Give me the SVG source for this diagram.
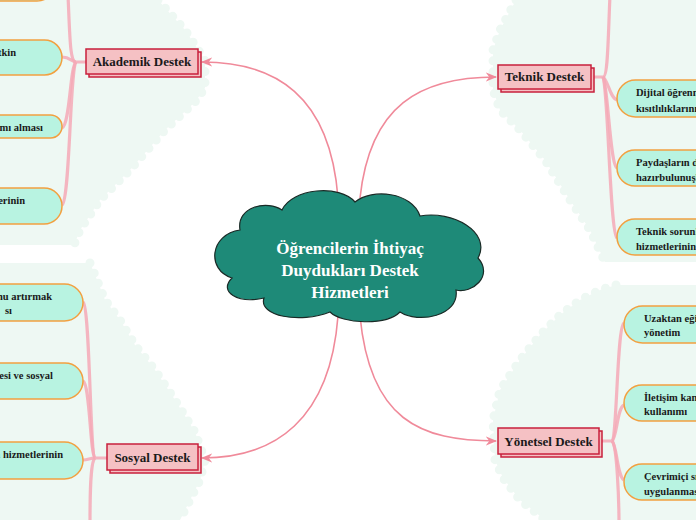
<svg xmlns="http://www.w3.org/2000/svg" width="696" height="520" viewBox="0 0 696 520">
<defs>
<style>
.blob{fill:none;stroke:#eef8f3;stroke-width:9;stroke-linejoin:round;stroke-dasharray:0 11;stroke-linecap:round}
.blobf{fill:#eef8f3}
.main{fill:none;stroke:#f08a9a;stroke-width:1.6}
.sub{fill:none;stroke:#f4a9b6;stroke-width:3.2;stroke-opacity:0.85}
.br{fill:#f5c1c4;stroke:#c8203c;stroke-width:1.5}
.brt{font-family:"Liberation Serif","DejaVu Serif",serif;font-weight:bold;font-size:13px;fill:#1a1a1a;text-anchor:middle}
.leaf{fill:#b8f3e1;stroke:#f2a040;stroke-width:1.5}
.lt{font-family:"Liberation Serif","DejaVu Serif",serif;font-weight:bold;font-size:10.5px;fill:#1a1a1a}
.ltr{font-family:"Liberation Serif","DejaVu Serif",serif;font-weight:bold;font-size:10.5px;fill:#1a1a1a;text-anchor:end}
.ct{font-family:"Liberation Serif","DejaVu Serif",serif;font-weight:bold;font-size:17px;fill:#ffffff;text-anchor:middle}
</style>
<marker id="arr" viewBox="0 0 10 10" refX="9" refY="5" markerWidth="7" markerHeight="7" orient="auto-start-reverse">
<path d="M0,1 L10,5 L0,9 L3,5 Z" fill="#f08a9a"/>
</marker>
</defs>
<rect width="696" height="520" fill="#ffffff"/>

<g id="backgrounds">
<path class="blobf" d="M0,0 L158,0 L185,30 L205,60 L205,88 L195,102 L165,130 L130,170 L100,200 L80,230 L74,245 L0,245 Z"/>
<path class="blob" d="M158,0 L185,30 L205,60 L205,88 L195,102 L165,130 L130,170 L100,200 L80,230 L74,245"/>
<path class="blobf" d="M516,0 L696,0 L696,262 L605,262 L590,230 L570,200 L545,160 L520,130 L500,110 L493,90 L493,50 L500,30 Z"/>
<path class="blob" d="M516,0 L500,30 L493,50 L493,90 L500,110 L520,130 L545,160 L570,200 L590,230 L605,262"/>
<path class="blobf" d="M0,263 L90,263 L95,275 L105,300 L120,320 L135,345 L155,370 L175,400 L195,432 L205,460 L200,480 L190,500 L180,520 L0,520 Z"/>
<path class="blob" d="M90,263 L95,275 L105,300 L120,320 L135,345 L155,370 L175,400 L195,432 L205,460 L200,480 L190,500 L180,520"/>
<path class="blobf" d="M616,285 L696,285 L696,520 L545,520 L520,500 L503,478 L495,460 L493,420 L500,390 L520,360 L540,335 L560,315 L580,300 L600,290 Z"/>
<path class="blob" d="M616,285 L600,290 L580,300 L560,315 L540,335 L520,360 L500,390 L493,420 L495,460 L503,478 L520,500 L545,520"/>
</g>

<g id="connectors">
<path class="main" d="M338,198 C 330,95 275,62 202,62" marker-end="url(#arr)"/>
<path class="main" d="M360,198 C 370,105 420,77 496,77" marker-end="url(#arr)"/>
<path class="main" d="M338,316 C 330,420 275,458 202,458" marker-end="url(#arr)"/>
<path class="main" d="M360,316 C 370,420 420,441 496,441" marker-end="url(#arr)"/>

<path class="sub" d="M86,62 L76,62 C 70,62 70,40 68,-5"/>
<path class="sub" d="M76,62 C 72,62 70,57 62,57"/>
<path class="sub" d="M76,62 C 70,66 70,125 62,128"/>
<path class="sub" d="M76,62 C 70,68 70,200 62,205"/>

<path class="sub" d="M591,77 L603,77 C 608,77 608,40 610,-5"/>
<path class="sub" d="M603,77 C 608,80 610,98 617,100"/>
<path class="sub" d="M603,77 C 608,85 610,165 617,168"/>
<path class="sub" d="M603,77 C 608,88 610,234 617,238"/>

<path class="sub" d="M107,458 L95,458 C 90,456 90,306 83,302"/>
<path class="sub" d="M95,458 C 90,454 90,384 83,381"/>
<path class="sub" d="M95,458 C 90,458 88,460 83,460"/>
<path class="sub" d="M95,458 C 90,462 90,500 90,525"/>

<path class="sub" d="M599,441 L612,441 C 617,438 617,326 624,323"/>
<path class="sub" d="M612,441 C 617,438 617,408 624,405"/>
<path class="sub" d="M612,441 C 617,445 617,476 624,480"/>
<path class="sub" d="M612,441 C 617,445 619,500 619,525"/>
</g>

<g id="center">
<path d="M232,278 C 206,270 210,234 240,230 C 236,206 268,200 282,210 C 292,188 340,184 355,202 C 372,188 412,192 420,216 C 452,210 492,232 478,258 C 494,276 472,294 456,290 C 460,316 418,324 400,312 C 386,326 342,324 330,312 C 300,324 258,316 264,298 C 238,304 218,292 232,278 Z" fill="#1e8a78" stroke="#1a2a26" stroke-width="1.2"/>
<text class="ct" x="350" y="254">Öğrencilerin İhtiyaç</text>
<text class="ct" x="350" y="276">Duydukları Destek</text>
<text class="ct" x="350" y="298">Hizmetleri</text>
</g>

<g id="akademik">
<rect class="br" x="89" y="52" width="112" height="25"/>
<rect class="br" x="86" y="49" width="112" height="25"/>
<text class="brt" x="142" y="66">Akademik Destek</text>
</g>
<g id="akademik-1"><rect class="leaf" x="-100" y="-35" width="155" height="36" rx="18"/></g>
<g id="akademik-2"><rect class="leaf" x="-100" y="40" width="162" height="35" rx="17.5"/><text class="ltr" x="16" y="56">tkin</text></g>
<g id="akademik-3"><rect class="leaf" x="-100" y="115" width="162" height="23" rx="11.5"/><text class="ltr" x="43" y="131">mı alması</text></g>
<g id="akademik-4"><rect class="leaf" x="-100" y="188" width="162" height="36" rx="18"/><text class="ltr" x="25" y="204">erinin</text></g>

<g id="teknik">
<rect class="br" x="501" y="68" width="93" height="24"/>
<rect class="br" x="498" y="65" width="93" height="24"/>
<text class="brt" x="544.5" y="81">Teknik Destek</text>
</g>
<g id="teknik-2"><rect class="leaf" x="617" y="80" width="160" height="37" rx="18.5"/><text class="lt" x="636" y="96">Dijital öğrenme</text><text class="lt" x="636" y="112">kısıtlılıklarının</text></g>
<g id="teknik-3"><rect class="leaf" x="617" y="150" width="160" height="36" rx="18"/><text class="lt" x="636" y="166">Paydaşların dijital</text><text class="lt" x="636" y="181">hazırbulunuşluk</text></g>
<g id="teknik-4"><rect class="leaf" x="617" y="219" width="160" height="36" rx="18"/><text class="lt" x="636" y="235">Teknik sorunlar</text><text class="lt" x="636" y="250">hizmetlerinin s</text></g>

<g id="sosyal">
<rect class="br" x="110" y="447" width="91" height="26"/>
<rect class="br" x="107" y="444" width="91" height="26"/>
<text class="brt" x="152.5" y="462">Sosyal Destek</text>
</g>
<g id="sosyal-1"><rect class="leaf" x="-100" y="284" width="183" height="37" rx="18.5"/><text class="ltr" x="52" y="300">nu artırmak</text><text class="ltr" x="12" y="314">sı</text></g>
<g id="sosyal-2"><rect class="leaf" x="-100" y="363" width="183" height="36" rx="18"/><text class="ltr" x="53" y="379">nesi ve sosyal</text></g>
<g id="sosyal-3"><rect class="leaf" x="-100" y="442" width="183" height="37" rx="18.5"/><text class="ltr" x="63" y="458">a hizmetlerinin</text></g>

<g id="yonetsel">
<rect class="br" x="501" y="431" width="101" height="26"/>
<rect class="br" x="498" y="428" width="101" height="26"/>
<text class="brt" x="548.5" y="446">Yönetsel Destek</text>
</g>
<g id="yonetsel-1"><rect class="leaf" x="624" y="306" width="160" height="37" rx="18.5"/><text class="lt" x="644" y="322">Uzaktan eğitim</text><text class="lt" x="644" y="336">yönetim</text></g>
<g id="yonetsel-2"><rect class="leaf" x="624" y="385" width="160" height="36" rx="18"/><text class="lt" x="644" y="401">İletişim kanal</text><text class="lt" x="644" y="415">kullanımı</text></g>
<g id="yonetsel-3"><rect class="leaf" x="624" y="464" width="160" height="36" rx="18"/><text class="lt" x="644" y="480">Çevrimiçi sınav</text><text class="lt" x="644" y="495">uygulanması</text></g>
</svg>
